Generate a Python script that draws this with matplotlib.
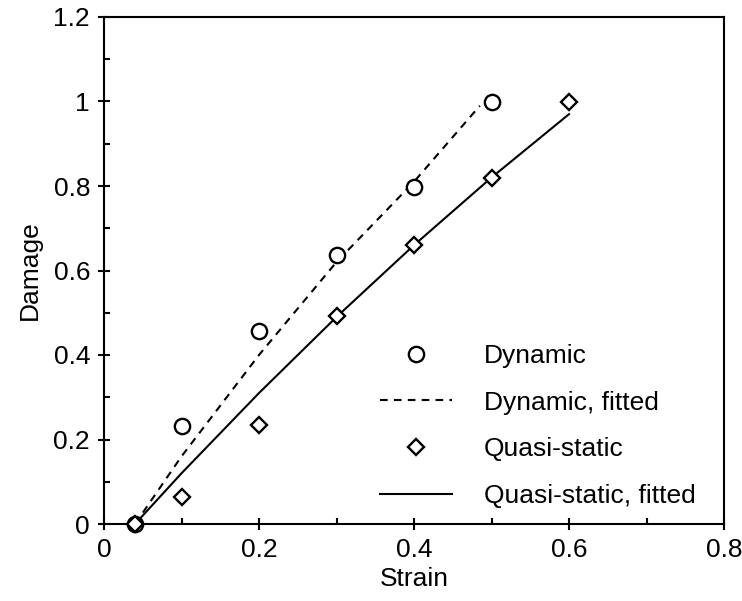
import matplotlib
matplotlib.use("Agg")
import matplotlib.pyplot as plt
from matplotlib.ticker import MultipleLocator

plt.rcParams['font.family'] = ['Liberation Sans', 'DejaVu Sans']
plt.rcParams['lines.scale_dashes'] = False

# Measured data
dyn_x = [0.04, 0.1, 0.2, 0.3, 0.4, 0.5]
dyn_y = [0.0, 0.233, 0.457, 0.637, 0.797, 1.0]
qs_x = [0.04, 0.1, 0.2, 0.3, 0.4, 0.5, 0.6]
qs_y = [0.0, 0.063, 0.235, 0.493, 0.66, 0.82, 1.0]

# Fitted curves
dyn_fit_x = [0.04, 0.1, 0.2, 0.3, 0.4, 0.485]
dyn_fit_y = [0.0, 0.16, 0.40, 0.62, 0.81, 0.99]
qs_fit_x = [0.04, 0.1, 0.2, 0.3, 0.4, 0.5, 0.6]
qs_fit_y = [0.0, 0.12, 0.31, 0.49, 0.66, 0.82, 0.97]

fig = plt.figure(figsize=(7.42, 6.01), dpi=100)
ax = fig.add_axes([104/742, 77/601, 620/742, 507/601])

fs = 19
ax.plot(dyn_x, dyn_y, linestyle='none', marker='o', ms=11, mfc='white',
        mec='black', mew=1.7, label='Dynamic', clip_on=False, zorder=3)
ax.plot(dyn_fit_x, dyn_fit_y, color='black', lw=1.5, dashes=(5.5, 4.5),
        label='Dynamic, fitted', zorder=2)
ax.plot(qs_x, qs_y, linestyle='none', marker='D', ms=8, mfc='white',
        mec='black', mew=1.7, label='Quasi-static', clip_on=False, zorder=3)
ax.plot(qs_fit_x, qs_fit_y, color='black', lw=1.5, linestyle='-',
        label='Quasi-static, fitted', zorder=2)

ax.set_xlim(0, 0.8)
ax.set_ylim(0, 1.2)
ax.xaxis.set_major_locator(MultipleLocator(0.2))
ax.xaxis.set_minor_locator(MultipleLocator(0.1))
ax.yaxis.set_major_locator(MultipleLocator(0.2))
ax.yaxis.set_minor_locator(MultipleLocator(0.1))

def fmt(v, pos):
    s = f"{v:.1f}"
    return "0" if abs(v) < 1e-9 else ("1" if abs(v - 1) < 1e-9 else s)

ax.xaxis.set_major_formatter(plt.FuncFormatter(fmt))
ax.yaxis.set_major_formatter(plt.FuncFormatter(fmt))

ax.tick_params(which='major', direction='inout', length=8, width=1.5,
               labelsize=fs, pad=6)
ax.tick_params(which='minor', direction='in', length=4, width=1.5)
for sp in ax.spines.values():
    sp.set_linewidth(1.5)

ax.set_xlabel('Strain', fontsize=fs, labelpad=4)
ax.set_ylabel('Damage', fontsize=fs, labelpad=8)

ax.legend(loc='upper left', bbox_to_anchor=(0.445, 0.355), frameon=False,
          fontsize=fs, handlelength=2.75, handletextpad=1.2,
          labelspacing=0.86, borderpad=0, borderaxespad=0)

fig.savefig('out.png', dpi=100)
